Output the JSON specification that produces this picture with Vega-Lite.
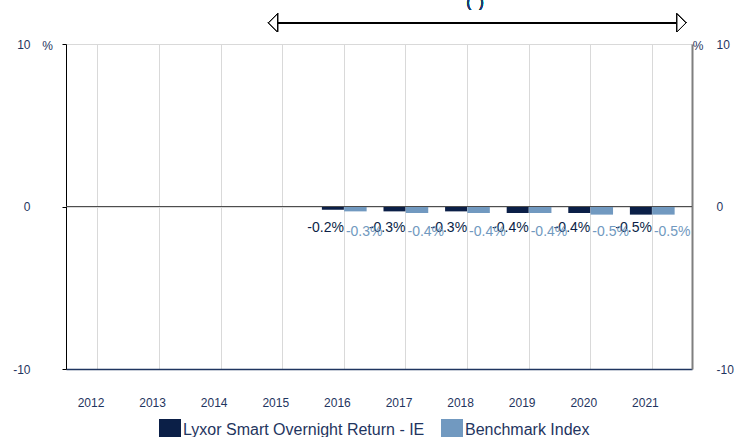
{
  "$schema": "https://vega.github.io/schema/vega-lite/v6.json",
  "width": 626,
  "height": 325,
  "autosize": {"type": "none"},
  "padding": {"left": 66, "top": 44, "right": 44, "bottom": 68},
  "config": {
    "view": {"stroke": null},
    "font": "Liberation Sans",
    "text": {"font": "Liberation Sans"},
    "locale": {
      "number": {"decimal": ".", "thousands": ",", "grouping": [3], "currency": ["$", ""], "minus": "-"}
    }
  },
  "data": {
    "values": [
      {"year": 2016, "series": "Lyxor Smart Overnight Return - IE", "value": -0.2},
      {"year": 2017, "series": "Lyxor Smart Overnight Return - IE", "value": -0.3},
      {"year": 2018, "series": "Lyxor Smart Overnight Return - IE", "value": -0.3},
      {"year": 2019, "series": "Lyxor Smart Overnight Return - IE", "value": -0.4},
      {"year": 2020, "series": "Lyxor Smart Overnight Return - IE", "value": -0.4},
      {"year": 2021, "series": "Lyxor Smart Overnight Return - IE", "value": -0.5},
      {"year": 2016, "series": "Benchmark Index", "value": -0.3},
      {"year": 2017, "series": "Benchmark Index", "value": -0.4},
      {"year": 2018, "series": "Benchmark Index", "value": -0.4},
      {"year": 2019, "series": "Benchmark Index", "value": -0.4},
      {"year": 2020, "series": "Benchmark Index", "value": -0.5},
      {"year": 2021, "series": "Benchmark Index", "value": -0.5}
    ]
  },
  "transform": [
    {"calculate": "replace(format(datum.value, '.1f'), '\u2212', '-') + '%'", "as": "label"}
  ],
  "resolve": {"axis": {"y": "independent"}},
  "layer": [
    {
      "transform": [{"filter": "datum.series === 'Lyxor Smart Overnight Return - IE'"}],
      "mark": {"type": "bar", "width": 22, "xOffset": -11},
      "encoding": {
        "x": {
          "field": "year", "type": "quantitative",
          "scale": {"domain": [2011.57, 2021.57], "nice": false, "zero": false},
          "axis": {
            "title": null, "values": [2012, 2013, 2014, 2015, 2016, 2017, 2018, 2019, 2020, 2021],
            "format": "d", "ticks": false, "grid": true, "gridColor": "#d9d9d9", "gridWidth": 1,
            "domainColor": "#1f3560", "domainWidth": 1.5,
            "labelFontSize": 12, "labelColor": "#1f3560", "labelPadding": 28, "labelOffset": -7,
            "labelFont": "Liberation Sans"
          }
        },
        "y": {
          "field": "value", "type": "quantitative",
          "scale": {"domain": [-10, 10], "nice": false},
          "axis": {
            "orient": "left", "values": [-10, 0, 10], "grid": true, "gridColor": "#d9d9d9",
            "labelExpr": "replace(datum.label, '\u2212', '-')",
            "domainColor": "#000000", "domainWidth": 1, "tickColor": "#000000", "tickSize": 4,
            "labelPadding": 32, "labelAlign": "right", "labelFontSize": 12, "labelColor": "#1f3560",
            "labelFont": "Liberation Sans",
            "title": "%", "titleAngle": 0, "titleX": -19, "titleY": 1, "titleAlign": "center",
            "titleBaseline": "middle", "titleFontWeight": "normal", "titleFontSize": 12,
            "titleColor": "#1f3560", "titleFont": "Liberation Sans"
          }
        },
        "color": {
          "field": "series", "type": "nominal",
          "scale": {"domain": ["Lyxor Smart Overnight Return - IE", "Benchmark Index"], "range": ["#0b1f47", "#7199c0"]},
          "legend": {
            "orient": "none", "legendX": 93, "legendY": 375, "direction": "horizontal",
            "title": null, "symbolType": "square", "symbolSize": 484, "symbolStrokeWidth": 0,
            "labelFontSize": 16, "labelColor": "#1f3560", "labelFont": "Liberation Sans",
            "labelOffset": 2, "columnPadding": 16, "padding": 0, "symbolOffset": 0, "labelLimit": 400
          }
        }
      }
    },
    {
      "transform": [{"filter": "datum.series === 'Benchmark Index'"}],
      "mark": {"type": "bar", "width": 22.5, "xOffset": 11.5},
      "encoding": {
        "x": {"field": "year", "type": "quantitative"},
        "y": {
          "field": "value", "type": "quantitative",
          "axis": {
            "orient": "right", "values": [-10, 0, 10], "grid": false, "ticks": false,
            "labelExpr": "replace(datum.label, '\u2212', '-')",
            "domainColor": "#7f7f7f", "domainWidth": 2,
            "labelPadding": 24, "labelAlign": "left", "labelFontSize": 12, "labelColor": "#1f3560",
            "labelFont": "Liberation Sans",
            "title": "%", "titleAngle": 0, "titleX": 5.5, "titleY": 1, "titleAlign": "center",
            "titleBaseline": "middle", "titleFontWeight": "normal", "titleFontSize": 12,
            "titleColor": "#1f3560", "titleFont": "Liberation Sans"
          }
        },
        "color": {"field": "series", "type": "nominal"}
      }
    },
    {
      "mark": {"type": "rule", "color": "#4d4d4d", "strokeWidth": 1.2},
      "encoding": {"y": {"datum": 0, "type": "quantitative", "axis": null}}
    },
    {
      "transform": [{"filter": "datum.series === 'Lyxor Smart Overnight Return - IE'"}],
      "mark": {"type": "text", "align": "right", "baseline": "middle", "dx": 0, "dy": 21, "fontSize": 14, "color": "#0b1f47"},
      "encoding": {
        "x": {"field": "year", "type": "quantitative"},
        "y": {"datum": 0, "type": "quantitative", "axis": null},
        "text": {"field": "label"}
      }
    },
    {
      "transform": [{"filter": "datum.series === 'Benchmark Index'"}],
      "mark": {"type": "text", "align": "left", "baseline": "middle", "dx": 2, "dy": 25, "fontSize": 14, "color": "#7199c0"},
      "encoding": {
        "x": {"field": "year", "type": "quantitative"},
        "y": {"datum": 0, "type": "quantitative", "axis": null},
        "text": {"field": "label"}
      }
    },
    {
      "mark": {"type": "rule", "color": "#000000", "strokeWidth": 1.5},
      "encoding": {
        "x": {"datum": 2014.92, "type": "quantitative"},
        "x2": {"datum": 2021.41},
        "y": {"datum": 11.3, "type": "quantitative", "axis": null}
      }
    },
    {
      "mark": {"type": "point", "shape": "M-0.5,0L0.5,-1L0.5,1Z", "size": 324, "filled": true, "fill": "#ffffff", "stroke": "#000000", "strokeWidth": 1, "opacity": 1},
      "encoding": {
        "x": {"datum": 2014.85, "type": "quantitative"},
        "y": {"datum": 11.3, "type": "quantitative", "axis": null}
      }
    },
    {
      "mark": {"type": "point", "shape": "M0.5,0L-0.5,-1L-0.5,1Z", "size": 324, "filled": true, "fill": "#ffffff", "stroke": "#000000", "strokeWidth": 1, "opacity": 1},
      "encoding": {
        "x": {"datum": 2021.48, "type": "quantitative"},
        "y": {"datum": 11.3, "type": "quantitative", "axis": null}
      }
    },
    {
      "mark": {"type": "text", "text": "(\u00a0\u00a0)", "align": "center", "baseline": "alphabetic", "fontSize": 14, "color": "#1f3c6e"},
      "encoding": {
        "x": {"datum": 2018.13, "type": "quantitative"},
        "y": {"datum": 12.28, "type": "quantitative", "axis": null}
      }
    }
  ]
}
